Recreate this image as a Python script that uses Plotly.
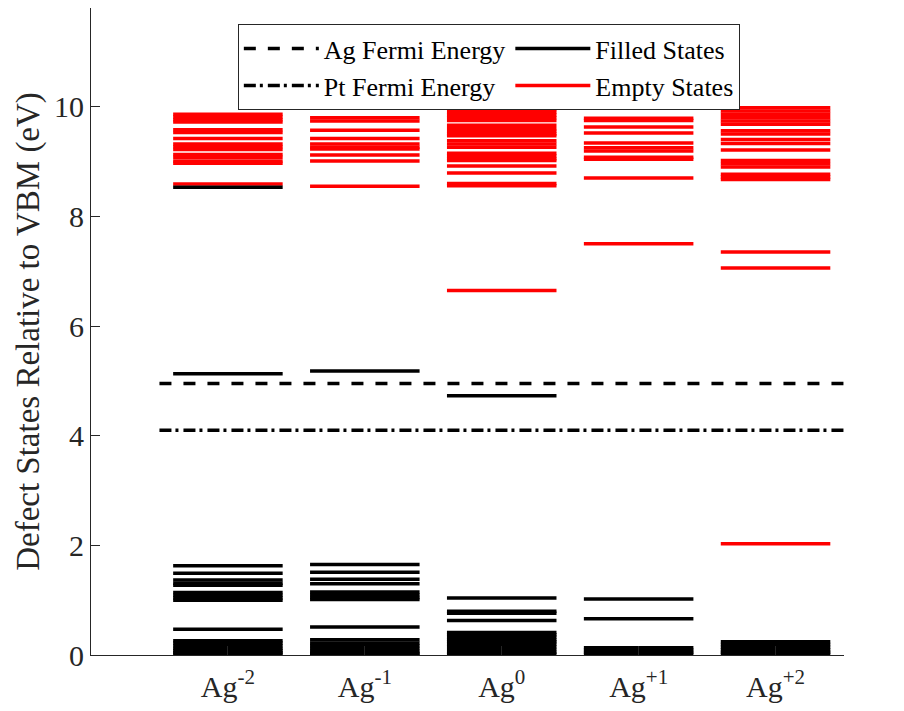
import plotly.graph_objects as go

# ---------------- data ----------------
categories = ["Ag<sup>-2</sup>", "Ag<sup>-1</sup>", "Ag<sup>0</sup>", "Ag<sup>+1</sup>", "Ag<sup>+2</sup>"]

filled_m2 = [8.53, 5.13, 1.63, 1.49, 1.37, 1.31, 1.27, 1.14, 1.09, 1.04, 1.00, 0.47,
             0.26, 0.22, 0.17, 0.12, 0.08, 0.04, 0.02]
filled_m1 = [5.18, 1.65, 1.51, 1.38, 1.30, 1.15, 1.10, 1.05, 1.01, 0.51,
             0.28, 0.22, 0.17, 0.12, 0.07, 0.03, 0.01]
filled_0 = [4.73, 1.04, 0.80, 0.76, 0.63, 0.41, 0.37, 0.33, 0.28, 0.24, 0.20, 0.15, 0.10, 0.05, 0.02]
filled_p1 = [1.02, 0.66, 0.13, 0.09, 0.05, 0.02]
filled_p2 = [0.24, 0.19, 0.14, 0.09, 0.05, 0.02]

empty_m2 = [9.86, 9.81, 9.76, 9.72, 9.58, 9.53, 9.42, 9.32, 9.27, 9.22, 9.13, 9.08, 9.01, 8.97, 8.59]
empty_m1 = [9.80, 9.74, 9.57, 9.42, 9.32, 9.26, 9.23, 9.12, 9.01, 8.55]
empty_0 = [10.0, 9.95, 9.90, 9.85, 9.80, 9.75, 9.66, 9.60, 9.55, 9.50, 9.47, 9.38, 9.32, 9.26,
           9.15, 9.10, 9.05, 9.02, 8.92, 8.79, 8.60, 8.56, 6.65]
empty_p1 = [9.79, 9.75, 9.63, 9.52, 9.34, 9.25, 9.19, 9.08, 9.04, 8.70, 7.50]
empty_p2 = [9.98, 9.92, 9.86, 9.80, 9.74, 9.68, 9.56, 9.50, 9.40, 9.33, 9.21, 9.02, 8.96, 8.90,
            8.77, 8.72, 8.67, 7.35, 7.06, 2.03]

ag_fermi = 4.95
pt_fermi = 4.10

filled_all = [filled_m2, filled_m1, filled_0, filled_p1, filled_p2]
empty_all = [empty_m2, empty_m1, empty_0, empty_p1, empty_p2]

# ---------------- style ----------------
HALF = 0.4
LW = 3.5
FONT = "Liberation Serif, Times New Roman, serif"
AXC = "#262626"


def segments(groups):
    xs, ys = [], []
    for i, levels in enumerate(groups):
        c = i + 1
        for v in levels:
            xs += [c - HALF, c + HALF, None]
            ys += [v, v, None]
    return xs, ys


fig = go.Figure()

ex, ey = segments(empty_all)
fig.add_trace(go.Scatter(x=ex, y=ey, mode="lines", name="Empty States",
                         line=dict(color="#ff0000", width=LW), legendrank=4))
fx, fy = segments(filled_all)
fig.add_trace(go.Scatter(x=fx, y=fy, mode="lines", name="Filled States",
                         line=dict(color="#000000", width=LW), legendrank=2))

n = len(categories)
fig.add_trace(go.Scatter(x=[0.5, n + 0.5], y=[ag_fermi, ag_fermi], mode="lines",
                         name="Ag Fermi Energy",
                         line=dict(color="#000000", width=LW, dash="12px,12px"), legendrank=1))
fig.add_trace(go.Scatter(x=[0.5, n + 0.5], y=[pt_fermi, pt_fermi], mode="lines",
                         name="Pt Fermi Energy",
                         line=dict(color="#000000", width=LW, dash="12px,4px,3px,5px"), legendrank=3))

fig.update_layout(
    width=904, height=711,
    margin=dict(l=91, r=60, t=8, b=56),
    plot_bgcolor="white", paper_bgcolor="white",
    font=dict(family=FONT, size=30, color=AXC),
    showlegend=True,
    legend=dict(
        orientation="h",
        x=0.195, xanchor="left", y=0.975, yanchor="top",
        bgcolor="white", bordercolor=AXC, borderwidth=1,
        font=dict(family=FONT, size=26, color="#000000"),
        itemwidth=75,
        traceorder="normal",
    ),
    xaxis=dict(
        range=[0, n + 0.5],
        tickvals=list(range(1, n + 1)), ticktext=categories,
        showline=True, linecolor=AXC, linewidth=1,
        ticks="inside", ticklen=9, tickcolor=AXC,
        showgrid=False, zeroline=False,
        ticklabelstandoff=5,
        tickfont=dict(family=FONT, size=30, color=AXC),
    ),
    yaxis=dict(
        range=[0, 11.8],
        tickvals=[0, 2, 4, 6, 8, 10],
        showline=True, linecolor=AXC, linewidth=1,
        ticks="inside", ticklen=9, tickcolor=AXC,
        showgrid=False, zeroline=False,
        tickfont=dict(family=FONT, size=30, color=AXC),
        title=dict(text="Defect States Relative to VBM (eV)",
                   font=dict(family=FONT, size=33, color=AXC), standoff=4),
    ),
)

fig.write_html("out.html")
